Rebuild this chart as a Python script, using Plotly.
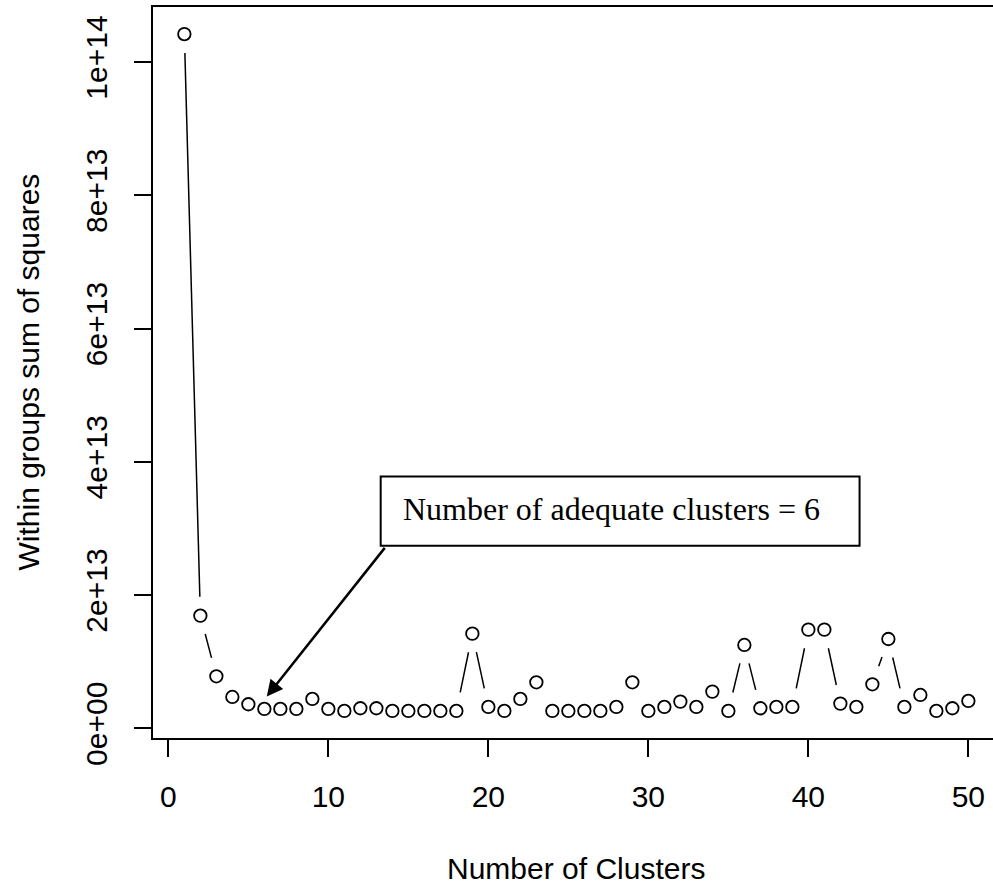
import plotly.graph_objects as go
import math

# ---- data ----
clusters = list(range(1, 51))
wss_e12 = [104.2, 16.9, 7.8, 4.7, 3.6, 2.9, 2.9, 2.9, 4.4, 2.9,
           2.6, 3.0, 3.0, 2.6, 2.6, 2.6, 2.6, 2.6, 14.2, 3.2,
           2.6, 4.4, 6.9, 2.6, 2.6, 2.6, 2.6, 3.2, 6.9, 2.6,
           3.2, 4.0, 3.2, 5.5, 2.6, 12.5, 3.0, 3.2, 3.2, 14.8,
           14.8, 3.7, 3.2, 6.6, 13.4, 3.2, 5.0, 2.6, 3.0, 4.1]
wss = [v * 1e12 for v in wss_e12]

x_tickvals = [0, 10, 20, 30, 40, 50]
y_tickvals = [0, 2e13, 4e13, 6e13, 8e13, 1e14]
y_ticktext = ["0e+00", "2e+13", "4e+13", "6e+13", "8e+13", "1e+14"]

x_title = "Number of Clusters"
y_title = "Within groups sum of squares"
note_text = "Number of adequate clusters = 6"

# ---- layout geometry ----
W, H = 993, 886
ML, MR, MT, MB = 153, 0, 7, 148
plot_w = W - ML - MR
plot_h = H - MT - MB
x0 = -0.96
px_per_x = 16.0
x_range = [x0, x0 + plot_w / px_per_x]
ymin, ymax = min(wss), max(wss)
pad = 0.04 * (ymax - ymin)
y_range = [ymin - pad, ymax + pad]
px_per_y = plot_h / (y_range[1] - y_range[0])

# ---- R type="b" style gapped segments ----
GAP = 19.0  # pixels
seg_x, seg_y = [], []
for i in range(len(clusters) - 1):
    xa, ya = clusters[i], wss[i]
    xb, yb = clusters[i + 1], wss[i + 1]
    dxp = (xb - xa) * px_per_x
    dyp = (yb - ya) * px_per_y
    d = math.hypot(dxp, dyp)
    if d <= 2 * GAP:
        continue
    f = GAP / d
    seg_x += [xa + (xb - xa) * f, xb - (xb - xa) * f, None]
    seg_y += [ya + (yb - ya) * f, yb - (yb - ya) * f, None]

fig = go.Figure()
fig.add_trace(go.Scatter(x=seg_x, y=seg_y, mode="lines",
                         line=dict(color="black", width=1.5),
                         hoverinfo="skip", showlegend=False))
fig.add_trace(go.Scatter(x=clusters, y=wss, mode="markers",
                         marker=dict(symbol="circle-open", size=12.5,
                                     color="black", line=dict(width=1.8, color="black")),
                         showlegend=False))

FONT = "Liberation Sans, Arial, sans-serif"

# annotation box (rect) and text, arrow
box_x = [13.27, 43.2]
box_y = [27.4e12, 37.8e12]
fig.add_shape(type="rect", xref="x", yref="y",
              x0=box_x[0], x1=box_x[1], y0=box_y[0], y1=box_y[1],
              line=dict(color="black", width=2), fillcolor="white", layer="above")
fig.add_annotation(x=14.56, y=32.9e12, xref="x", yref="y", text=note_text,
                   showarrow=False, xanchor="left", yanchor="middle",
                   font=dict(family="Liberation Serif, Times New Roman, serif", size=32, color="black"))
arrow_tip = (6.15, 4.75e12)
arrow_tail = (13.6, 27.3e12)
fig.add_annotation(x=arrow_tip[0], y=arrow_tip[1], ax=arrow_tail[0], ay=arrow_tail[1],
                   xref="x", yref="y", axref="x", ayref="y", text="",
                   showarrow=True, arrowhead=2, arrowsize=1.3, arrowwidth=2.5,
                   arrowcolor="black")

# axis titles
fig.add_annotation(x=0.504, y=-(869 - (H - MB)) / plot_h, xref="paper", yref="paper",
                   text=x_title, showarrow=False, xanchor="center", yanchor="middle",
                   font=dict(family=FONT, size=30, color="black"))
fig.add_annotation(x=(28 - ML) / plot_w, y=0.5, xref="paper", yref="paper",
                   text=y_title, showarrow=False, textangle=-90,
                   xanchor="center", yanchor="middle",
                   font=dict(family=FONT, size=30, color="black"))

fig.update_layout(
    width=W, height=H,
    margin=dict(l=ML, r=MR, t=MT, b=MB, pad=0),
    paper_bgcolor="white", plot_bgcolor="white",
    showlegend=False,
    font=dict(family=FONT, size=30, color="black"),
    xaxis=dict(range=x_range, tickvals=x_tickvals, ticks="outside", ticklen=17,
               tickwidth=2, tickcolor="black", showgrid=False, zeroline=False,
               showline=True, mirror=True, linecolor="black", linewidth=2,
               tickfont=dict(family=FONT, size=30, color="black"),
               ticklabelstandoff=14),
    yaxis=dict(range=y_range, tickvals=y_tickvals, ticktext=y_ticktext,
               ticks="outside", ticklen=17, tickwidth=2, tickcolor="black",
               showgrid=False, zeroline=False, showline=True, mirror=False,
               linecolor="black", linewidth=2, tickangle=-90,
               tickfont=dict(family=FONT, size=30, color="black"),
               ticklabelstandoff=15),
)

fig.write_html("out.html")
